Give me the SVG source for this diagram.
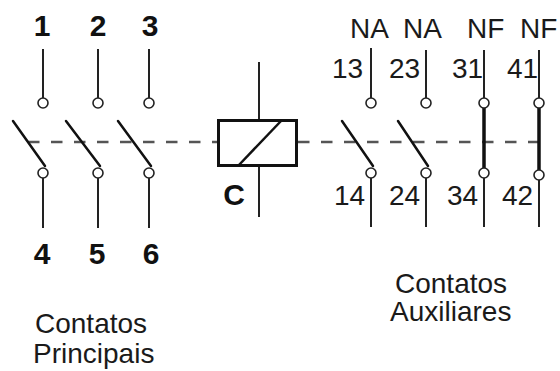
<svg xmlns="http://www.w3.org/2000/svg" width="560" height="371" viewBox="0 0 560 371">
<style>
.w{stroke:#222;stroke-width:2;fill:none}
.b{stroke:#111;stroke-width:2.5;fill:none;stroke-linecap:round}
.t{stroke:#111;stroke-width:3.5;fill:none}
.c{stroke:#222;stroke-width:1.6;fill:#fff}
.d{stroke:#555;stroke-width:2.5;fill:none;stroke-dasharray:11.5 11.5}
.lb{font-family:"Liberation Sans",Arial,sans-serif;font-weight:bold;font-size:30px;fill:#111;text-anchor:middle}
.lr{font-family:"Liberation Sans",Arial,sans-serif;font-size:28px;fill:#1a1a1a}
</style>
<rect width="560" height="371" fill="#fff"/>
<g id="connectors">
<line class="d" x1="28" y1="142" x2="217" y2="142"/>
<line class="d" x1="298" y1="142" x2="539" y2="142"/>
</g>
<g id="pole1">
<line class="w" x1="43" y1="49" x2="43" y2="98"/>
<line class="w" x1="43" y1="178" x2="43" y2="228"/>
<line class="b" x1="13" y1="121" x2="45" y2="166"/>
<circle class="c" cx="43" cy="103" r="5"/>
<circle class="c" cx="43" cy="173" r="5"/>
<text class="lb" x="42" y="36">1</text>
<text class="lb" x="42" y="264">4</text>
</g>
<g id="pole2">
<line class="w" x1="98" y1="49" x2="98" y2="98"/>
<line class="w" x1="98" y1="178" x2="98" y2="228"/>
<line class="b" x1="66" y1="121" x2="100" y2="166"/>
<circle class="c" cx="98" cy="103" r="5"/>
<circle class="c" cx="98" cy="173" r="5"/>
<text class="lb" x="98" y="36">2</text>
<text class="lb" x="97" y="264">5</text>
</g>
<g id="pole3">
<line class="w" x1="149" y1="49" x2="149" y2="98"/>
<line class="w" x1="149" y1="178" x2="149" y2="228"/>
<line class="b" x1="118" y1="121" x2="151" y2="166"/>
<circle class="c" cx="149" cy="103" r="5"/>
<circle class="c" cx="149" cy="173" r="5"/>
<text class="lb" x="150" y="36">3</text>
<text class="lb" x="151" y="264">6</text>
</g>
<g id="coil">
<line class="w" x1="259" y1="62" x2="259" y2="119"/>
<line class="w" x1="259" y1="167" x2="259" y2="217"/>
<rect x="218.5" y="120.5" width="78" height="45" fill="#fff" stroke="#111" stroke-width="3"/>
<line stroke="#111" stroke-width="2.5" x1="238" y1="166" x2="281" y2="121"/>
<text class="lb" x="234" y="205">C</text>
</g>
<g id="aux13">
<line class="w" x1="371" y1="48" x2="371" y2="98"/>
<line class="w" x1="371" y1="178" x2="371" y2="227"/>
<line class="b" x1="342" y1="121" x2="373" y2="166"/>
<circle class="c" cx="371" cy="103" r="5"/>
<circle class="c" cx="371" cy="173" r="5"/>
<text class="lr" x="350" y="38">NA</text>
<text class="lr" x="332" y="78">13</text>
<text class="lr" x="334" y="205">14</text>
</g>
<g id="aux23">
<line class="w" x1="426" y1="50" x2="426" y2="98"/>
<line class="w" x1="426" y1="178" x2="426" y2="227"/>
<line class="b" x1="398" y1="121" x2="428" y2="166"/>
<circle class="c" cx="426" cy="103" r="5"/>
<circle class="c" cx="426" cy="173" r="5"/>
<text class="lr" x="403" y="38">NA</text>
<text class="lr" x="389" y="78">23</text>
<text class="lr" x="389" y="205">24</text>
</g>
<g id="aux31">
<line class="w" x1="484" y1="50" x2="484" y2="98"/>
<line class="w" x1="484" y1="178" x2="484" y2="227"/>
<line class="t" x1="484" y1="108" x2="484" y2="168"/>
<circle class="c" cx="484" cy="103" r="5"/>
<circle class="c" cx="484" cy="173" r="5"/>
<text class="lr" x="467" y="38">NF</text>
<text class="lr" x="452" y="78">31</text>
<text class="lr" x="447" y="205">34</text>
</g>
<g id="aux41">
<line class="w" x1="539" y1="50" x2="539" y2="98"/>
<line class="w" x1="539" y1="180" x2="539" y2="227"/>
<line class="t" x1="539" y1="108" x2="539" y2="170"/>
<circle class="c" cx="539" cy="103" r="5"/>
<circle class="c" cx="539" cy="175" r="5"/>
<text class="lr" x="520" y="38">NF</text>
<text class="lr" x="507" y="78">41</text>
<text class="lr" x="502" y="205">42</text>
</g>
<g id="labels">
<text class="lr" x="35" y="333">Contatos</text>
<text class="lr" x="33" y="363">Principais</text>
<text class="lr" x="395" y="293">Contatos</text>
<text class="lr" x="390" y="321">Auxiliares</text>
</g>
</svg>
